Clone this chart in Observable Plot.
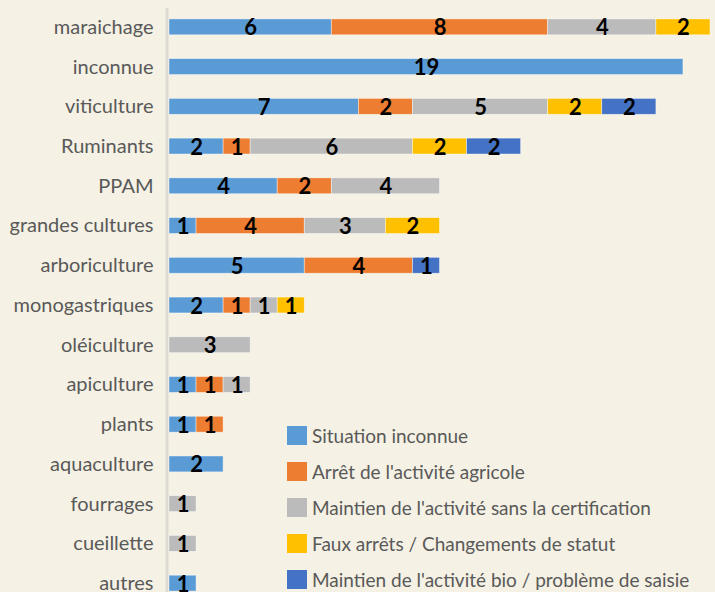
<!DOCTYPE html>
<html>
<head>
<meta charset="utf-8">
<script src="https://cdn.jsdelivr.net/npm/d3@7"></script>
<script src="https://cdn.jsdelivr.net/npm/@observablehq/plot@0.6"></script>
<style>
  html, body { margin: 0; padding: 0; background: #F5F1E4; overflow: hidden; }
  #wrap { position: relative; width: 715px; height: 592px; }
  #legend { position: absolute; left: 287px; top: 417px; font-family: Lato, sans-serif; font-size: 19px; color: #595959; }
  .item { display: flex; align-items: center; height: 36px; white-space: nowrap; }
  .sw { width: 20px; height: 19px; margin-right: 5px; flex: none; }
</style>
</head>
<body>
<div id="wrap"></div>
<script>
const categories = ["maraichage", "inconnue", "viticulture", "Ruminants", "PPAM", "grandes cultures", "arboriculture", "monogastriques", "oléiculture", "apiculture", "plants", "aquaculture", "fourrages", "cueillette", "autres"];
const seriesNames = ["Situation inconnue", "Arrêt de l'activité agricole", "Maintien de l'activité sans la certification", "Faux arrêts / Changements de statut", "Maintien de l'activité bio / problème de saisie"];
const seriesColors = ["#5B9BD5", "#ED7D31", "#BBBBBB", "#FFC000", "#4472C4"];
const situationInconnue   = [6, 19, 7, 2, 4, 1, 5, 2, 0, 1, 1, 2, 0, 0, 1];
const arretActivite       = [8, 0, 2, 1, 2, 4, 4, 1, 0, 1, 1, 0, 0, 0, 0];
const maintienSansCertif  = [4, 0, 5, 6, 4, 3, 0, 1, 3, 1, 0, 0, 1, 1, 0];
const fauxArrets          = [2, 0, 2, 2, 0, 2, 0, 1, 0, 0, 0, 0, 0, 0, 0];
const maintienBio         = [0, 0, 2, 2, 0, 0, 1, 0, 0, 0, 0, 0, 0, 0, 0];
const seriesValues = [situationInconnue, arretActivite, maintienSansCertif, fauxArrets, maintienBio];

const data = [];
seriesNames.forEach((s, si) => {
  categories.forEach((c, ci) => {
    const v = seriesValues[si][ci];
    if (v > 0) data.push({cat: c, series: s, value: v});
  });
});

const chart = Plot.plot({
  width: 715,
  height: 592,
  marginLeft: 169,
  marginRight: 5,
  marginTop: 8,
  marginBottom: 0,
  style: {background: "transparent", fontFamily: "Lato, sans-serif"},
  x: {domain: [0, 20], axis: null},
  y: {domain: categories, range: [7, 603], round: false, paddingInner: 0.6, paddingOuter: 0.3, label: null},
  color: {domain: seriesNames, range: seriesColors},
  marks: [
    Plot.ruleX([0], {stroke: "#DEDBD3", strokeWidth: 3, dx: -2.5}),
    Plot.barX(data, Plot.stackX({x: "value", y: "cat", fill: "series", order: seriesNames, stroke: "#ffffff", strokeWidth: 0.7, strokeOpacity: 0.6})),
    Plot.text(data, Plot.stackX({x: "value", y: "cat", z: "series", order: seriesNames, text: d => String(d.value), fill: "#000", fontWeight: "bold", fontSize: 22, dy: 1})),
    Plot.axisY({tickSize: 0, tickPadding: 16, fontSize: 20, fill: "#595959", label: null})
  ]
});
document.getElementById("wrap").appendChild(chart);

const legend = document.createElement("div");
legend.id = "legend";
seriesNames.forEach((s, i) => {
  const it = document.createElement("div");
  it.className = "item";
  const sw = document.createElement("span");
  sw.className = "sw";
  sw.style.background = seriesColors[i];
  const tx = document.createElement("span");
  tx.textContent = s;
  it.appendChild(sw); it.appendChild(tx);
  legend.appendChild(it);
});
document.getElementById("wrap").appendChild(legend);
</script>
</body>
</html>
